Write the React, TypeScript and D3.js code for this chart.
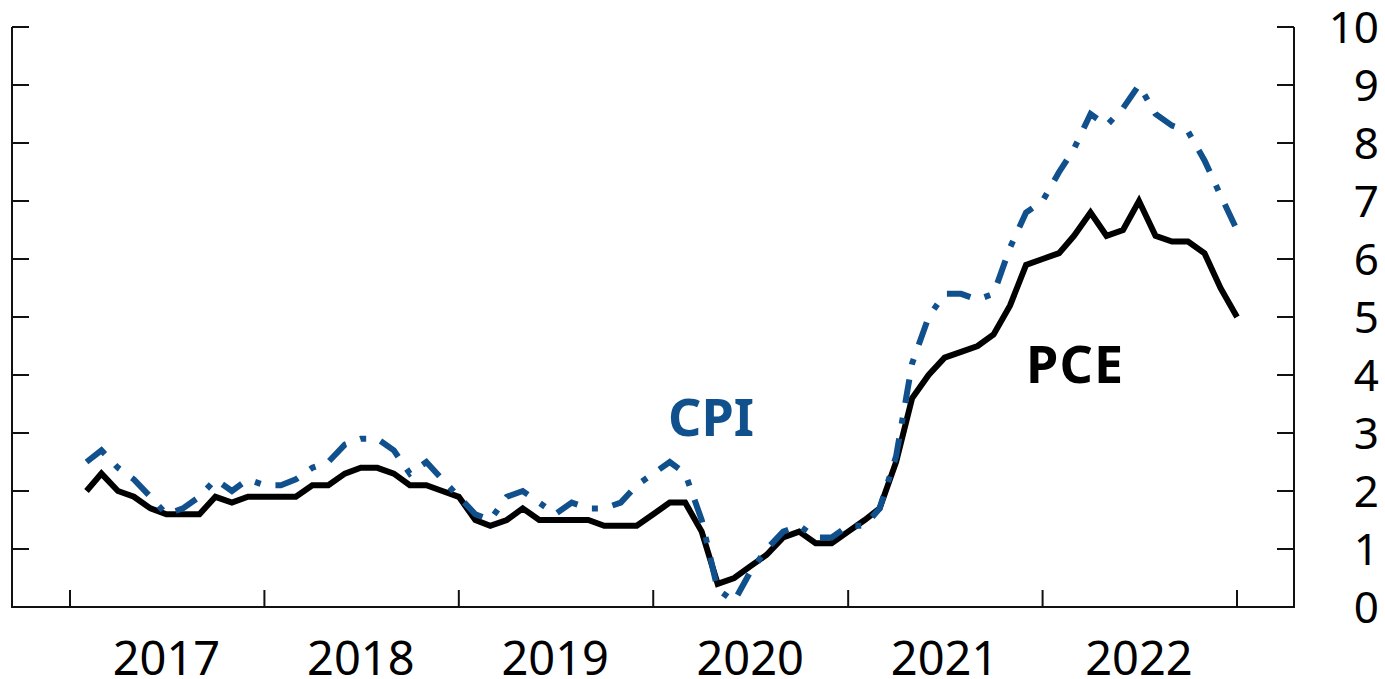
import React, { useRef, useEffect } from 'react';
import * as d3 from 'd3';

// monthly 12-month percent change, Jan 2017 .. Dec 2022
const startYear = 2017;
const yearLabels = ['2017', '2018', '2019', '2020', '2021', '2022'];
const yTicks = [0, 1, 2, 3, 4, 5, 6, 7, 8, 9, 10];

const cpiValues = [
  2.5, 2.7, 2.4, 2.2, 1.9, 1.6, 1.7, 1.9, 2.2, 2.0, 2.2, 2.1,
  2.1, 2.2, 2.4, 2.5, 2.8, 2.9, 2.9, 2.7, 2.3, 2.5, 2.2, 1.9,
  1.6, 1.5, 1.9, 2.0, 1.8, 1.6, 1.8, 1.7, 1.7, 1.8, 2.1, 2.3,
  2.5, 2.3, 1.5, 0.3, 0.1, 0.6, 1.0, 1.3, 1.4, 1.2, 1.2, 1.4,
  1.4, 1.7, 2.6, 4.2, 5.0, 5.4, 5.4, 5.3, 5.4, 6.2, 6.8, 7.0,
  7.5, 7.9, 8.5, 8.3, 8.6, 9.0, 8.5, 8.3, 8.2, 7.7, 7.1, 6.5,
];

const pceValues = [
  2.0, 2.3, 2.0, 1.9, 1.7, 1.6, 1.6, 1.6, 1.9, 1.8, 1.9, 1.9,
  1.9, 1.9, 2.1, 2.1, 2.3, 2.4, 2.4, 2.3, 2.1, 2.1, 2.0, 1.9,
  1.5, 1.4, 1.5, 1.7, 1.5, 1.5, 1.5, 1.5, 1.4, 1.4, 1.4, 1.6,
  1.8, 1.8, 1.3, 0.4, 0.5, 0.7, 0.9, 1.2, 1.3, 1.1, 1.1, 1.3,
  1.5, 1.7, 2.5, 3.6, 4.0, 4.3, 4.4, 4.5, 4.7, 5.2, 5.9, 6.0,
  6.1, 6.4, 6.8, 6.4, 6.5, 7.0, 6.4, 6.3, 6.3, 6.1, 5.5, 5.0,
];

const BLUE = '#10508d';
const FONT = '"Noto Sans", "Open Sans", sans-serif';

const App = () => {
  const svgRef = useRef<SVGSVGElement>(null);

  useEffect(() => {
    const svg = d3.select(svgRef.current);
    svg.selectAll('*').remove();

    const left = 12;
    const right = 1294;
    const top = 27;
    const bottom = 607;

    // each observation plotted at the end of its month
    const monthEnd = (i: number) => new Date(startYear, i + 1, 1);

    const x = d3.scaleTime()
      .domain([new Date(startYear, 0, 1), new Date(startYear + yearLabels.length, 0, 1)])
      .range([70, 1237]);
    const y = d3.scaleLinear().domain([0, 10]).range([bottom, top]);

    const axisColor = '#111';

    // frame: left, bottom, right
    svg.append('path')
      .attr('d', `M${left},${top}V${bottom}H${right}V${top}`)
      .attr('fill', 'none')
      .attr('stroke', axisColor)
      .attr('stroke-width', 2);

    // inward ticks on both sides, labels on the right
    yTicks.forEach(t => {
      svg.append('line')
        .attr('x1', left).attr('x2', left + 17)
        .attr('y1', y(t)).attr('y2', y(t))
        .attr('stroke', axisColor).attr('stroke-width', 2);
      svg.append('line')
        .attr('x1', right - 17).attr('x2', right)
        .attr('y1', y(t)).attr('y2', y(t))
        .attr('stroke', axisColor).attr('stroke-width', 2);
      svg.append('text')
        .attr('x', 1379)
        .attr('y', y(t))
        .attr('dy', '0.36em')
        .attr('text-anchor', 'end')
        .attr('font-family', FONT)
        .attr('font-size', 44)
        .attr('fill', '#000')
        .text(t);
    });

    // year boundary ticks
    const yearTicks = d3.range(startYear, startYear + yearLabels.length + 1).map(yr => new Date(yr, 0, 1));
    yearTicks.forEach(d => {
      svg.append('line')
        .attr('x1', x(d)).attr('x2', x(d))
        .attr('y1', bottom - 17).attr('y2', bottom)
        .attr('stroke', axisColor).attr('stroke-width', 2);
    });

    // year labels centred in each year
    yearLabels.forEach((lbl, i) => {
      svg.append('text')
        .attr('x', x(new Date(startYear + i, 6, 1)))
        .attr('y', 675)
        .attr('text-anchor', 'middle')
        .attr('font-family', FONT)
        .attr('font-size', 47)
        .attr('fill', '#000')
        .text(lbl);
    });

    const line = d3.line<number>()
      .x((_, i) => x(monthEnd(i)))
      .y(d => y(d));

    svg.append('path')
      .datum(pceValues)
      .attr('fill', 'none')
      .attr('stroke', '#000')
      .attr('stroke-width', 6)
      .attr('d', line);

    svg.append('path')
      .datum(cpiValues)
      .attr('fill', 'none')
      .attr('stroke', BLUE)
      .attr('stroke-width', 6)
      .attr('stroke-dasharray', '24,15,6,15')
      .attr('d', line);

    svg.append('text')
      .attr('x', 668).attr('y', 436)
      .attr('font-family', FONT)
      .attr('font-weight', 'bold')
      .attr('font-size', 52)
      .attr('fill', BLUE)
      .text('CPI');

    svg.append('text')
      .attr('x', 1026).attr('y', 383)
      .attr('font-family', FONT)
      .attr('font-weight', 'bold')
      .attr('font-size', 52)
      .attr('textLength', 97)
      .attr('lengthAdjust', 'spacing')
      .attr('fill', '#000')
      .text('PCE');
  }, []);

  return (
    <svg ref={svgRef} width="1385" height="679"
      style={{ position: 'absolute', left: 0, top: 0, background: '#fff' }} />
  );
};

export default App;
